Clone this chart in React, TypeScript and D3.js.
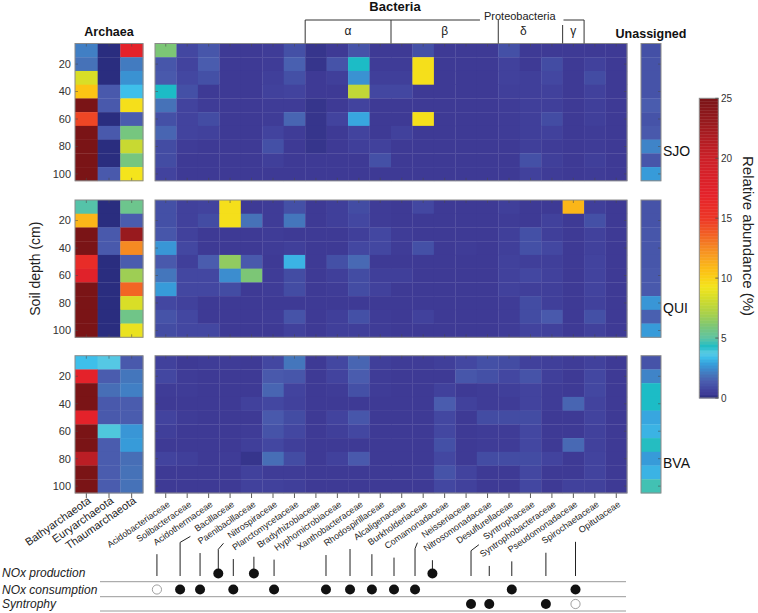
import React, { useMemo } from 'react';
import * as d3 from 'd3';

// ---------------- DATA ----------------
const depths = [10, 20, 30, 40, 50, 60, 70, 80, 90, 100];
const depthTicks = [20, 40, 60, 80, 100];
const sites = ['SJO', 'QUI', 'BVA'];
const archaeaNames = ['Bathyarchaeota', 'Euryarchaeota', 'Thaumarchaeota'];
const bacteriaNames = [
  'Acidobacteriaceae', 'Solibacteraceae', 'Acidothermaceae', 'Bacillaceae', 'Paenibacillaceae',
  'Nitrospiraceae', 'Planctomycetaceae', 'Bradyrhizobiaceae', 'Hyphomicrobiaceae', 'Xanthobacteraceae',
  'Rhodospirillaceae', 'Alcaligenaceae', 'Burkholderiaceae', 'Comamonadaceae', 'Neisseriaceae',
  'Nitrosomonadaceae', 'Desulfurellaceae', 'Syntrophaceae', 'Syntrophobacteraceae', 'Pseudomonadaceae',
  'Spirochaetaceae', 'Opitutaceae',
];

// rows = depths (10..100 cm), columns = archaeaNames
const sjoArchaea = [
  [2.2, 0.05, 17], [1.9, 0.05, 2.1], [8.5, 0.05, 2.6], [10.5, 1.3, 3.4], [25, 1.3, 9.5],
  [14.5, 0.05, 1.4], [25, 1.3, 5.8], [25, 0.05, 8.0], [25, 0.05, 5.8], [25, 1.3, 9.3],
];
const quiArchaea = [
  [4.9, 0.05, 5.5], [11, 0.05, 1.4], [25, 1.3, 23], [25, 1.3, 12.5], [16, 0.05, 1.4],
  [17.5, 0.05, 6.8], [25, 0.05, 13.5], [25, 0.05, 8.5], [25, 0.05, 5.6], [25, 0.05, 9.0],
];
const bvaArchaea = [
  [3.4, 3.7, 1.3], [17, 1.4, 2.0], [25, 1.8, 2.2], [25, 1.3, 1.4], [17, 1.3, 1.4],
  [25, 3.9, 2.7], [25, 1.4, 2.8], [21, 1.4, 1.8], [25, 1.4, 1.9], [25, 1.4, 1.9],
];

// rows = depths, columns = bacteriaNames
const sjoBacteria = [
  [6.0, 0.8, 1.2, 0.3, 0.3, 0.4, 1.0, 0.2, 0.3, 1.1, 0.3, 0.3, 1.0, 0.3, 0.3, 0.3, 1.0, 0.3, 0.3, 0.3, 0.3, 0.3],
  [1.2, 0.7, 1.4, 0.3, 0.3, 0.4, 1.5, 0.2, 1.1, 4.3, 0.4, 0.4, 9.5, 0.3, 0.3, 0.3, 0.6, 0.3, 0.9, 0.3, 0.6, 0.3],
  [1.3, 0.8, 1.0, 0.3, 0.3, 0.5, 1.0, 0.3, 0.5, 2.6, 0.5, 0.5, 9.5, 0.3, 0.3, 0.3, 0.6, 0.5, 0.8, 0.3, 0.9, 0.3],
  [4.3, 1.0, 0.3, 0.3, 0.3, 0.6, 0.7, 0.3, 0.3, 7.8, 0.8, 0.8, 0.3, 0.3, 0.3, 0.3, 0.5, 0.5, 0.6, 0.3, 0.6, 0.3],
  [1.9, 0.7, 0.4, 0.3, 0.3, 0.4, 0.4, 0.2, 0.3, 0.7, 0.3, 0.3, 0.3, 0.3, 0.3, 0.3, 0.4, 0.5, 0.5, 0.3, 0.5, 0.3],
  [1.0, 0.7, 0.9, 0.3, 0.3, 0.4, 1.6, 0.2, 0.7, 3.0, 0.3, 0.3, 9.5, 0.3, 0.3, 0.3, 0.4, 0.5, 0.9, 0.3, 0.5, 0.3],
  [1.6, 0.7, 0.6, 0.3, 0.3, 0.7, 0.4, 0.2, 0.3, 0.7, 0.3, 0.6, 0.3, 0.3, 0.3, 0.3, 0.4, 0.5, 0.6, 0.3, 0.4, 0.3],
  [0.9, 0.4, 0.3, 0.3, 0.3, 1.0, 0.3, 0.2, 0.3, 0.5, 0.6, 0.3, 0.3, 0.3, 0.3, 0.3, 0.3, 0.5, 0.4, 0.3, 0.4, 0.3],
  [0.9, 0.3, 0.3, 0.3, 0.3, 0.5, 0.3, 0.3, 0.3, 0.3, 1.0, 0.3, 0.3, 0.3, 0.3, 0.3, 0.3, 1.0, 0.5, 0.3, 0.5, 0.3],
  [0.7, 0.3, 0.3, 0.3, 0.3, 0.3, 0.3, 0.3, 0.3, 0.3, 0.3, 0.3, 0.3, 0.3, 0.3, 0.3, 0.3, 0.6, 0.4, 0.3, 0.4, 0.3],
];
const quiBacteria = [
  [1.0, 0.6, 0.7, 9.5, 0.3, 0.4, 1.0, 0.3, 0.5, 0.9, 0.4, 0.3, 0.8, 0.3, 0.3, 0.3, 0.5, 0.3, 0.3, 11, 0.5, 0.3],
  [1.0, 0.6, 0.9, 9.5, 1.9, 0.4, 2.0, 0.3, 0.5, 0.8, 0.4, 0.3, 0.3, 0.3, 0.3, 0.3, 0.4, 0.3, 0.6, 0.3, 1.0, 0.3],
  [1.2, 0.6, 0.3, 0.3, 0.3, 0.4, 0.3, 0.3, 0.3, 0.5, 0.8, 0.4, 0.3, 0.3, 0.3, 0.3, 0.5, 1.0, 0.5, 0.3, 0.6, 0.3],
  [2.7, 0.8, 0.3, 0.3, 0.3, 0.4, 0.5, 0.3, 0.3, 0.8, 0.8, 0.4, 1.0, 0.3, 0.4, 0.3, 0.5, 1.0, 0.8, 0.3, 0.6, 0.3],
  [1.3, 0.5, 1.4, 6.5, 1.3, 0.3, 3.2, 0.3, 1.0, 1.7, 0.3, 0.3, 0.3, 0.3, 0.3, 0.3, 0.6, 0.5, 0.5, 0.3, 0.7, 0.3],
  [2.0, 0.8, 0.8, 2.5, 6.0, 0.4, 0.9, 0.3, 0.5, 0.9, 0.5, 0.5, 0.3, 0.3, 0.3, 0.3, 0.6, 0.8, 0.6, 0.3, 0.7, 0.3],
  [2.8, 0.8, 0.8, 0.9, 0.3, 0.4, 0.9, 0.3, 0.4, 0.9, 0.6, 0.3, 0.3, 0.3, 0.3, 0.3, 0.6, 0.5, 0.5, 0.3, 0.7, 0.3],
  [0.8, 0.6, 0.3, 0.3, 0.3, 0.3, 0.3, 0.3, 0.3, 0.3, 0.3, 0.3, 0.3, 0.3, 0.3, 0.3, 0.4, 0.9, 0.5, 0.3, 0.6, 0.3],
  [1.1, 0.8, 0.3, 0.3, 0.3, 0.4, 1.1, 0.3, 0.5, 1.0, 0.4, 0.3, 0.6, 0.3, 0.3, 0.3, 0.4, 0.9, 1.3, 0.3, 1.0, 0.3],
  [0.9, 0.8, 0.8, 0.3, 0.3, 0.3, 0.6, 0.3, 0.5, 0.5, 0.4, 0.3, 0.3, 0.3, 0.3, 0.3, 0.4, 0.7, 0.6, 0.3, 0.6, 0.3],
];
const bvaBacteria = [
  [0.6, 0.3, 0.4, 0.4, 0.3, 0.8, 2.0, 0.3, 0.8, 1.6, 0.5, 0.4, 0.4, 0.5, 0.8, 1.0, 0.9, 0.6, 0.5, 0.4, 0.6, 0.3],
  [0.8, 0.4, 0.3, 0.3, 0.3, 1.3, 1.2, 0.3, 0.7, 1.4, 0.4, 0.3, 0.3, 0.3, 1.2, 1.0, 0.8, 1.1, 0.5, 0.3, 0.8, 0.3],
  [0.4, 0.4, 0.3, 0.3, 0.3, 1.6, 0.7, 0.3, 0.4, 1.0, 0.4, 0.3, 0.3, 0.6, 0.3, 0.4, 0.5, 0.7, 0.4, 0.3, 0.8, 0.3],
  [0.3, 0.3, 0.3, 0.3, 0.6, 0.8, 0.6, 0.3, 0.3, 0.3, 0.3, 0.3, 0.3, 1.4, 0.6, 0.4, 0.4, 0.7, 0.4, 1.6, 0.7, 0.3],
  [0.7, 0.4, 0.3, 0.3, 0.3, 1.3, 0.9, 0.3, 0.7, 1.2, 0.3, 0.3, 0.3, 0.8, 0.3, 0.9, 0.9, 0.9, 0.3, 0.3, 0.7, 0.3],
  [0.5, 0.3, 0.3, 0.3, 0.4, 1.1, 0.8, 0.3, 0.5, 0.8, 0.3, 0.3, 0.3, 0.8, 0.3, 0.4, 0.4, 0.8, 0.3, 0.3, 0.6, 0.3],
  [0.3, 0.3, 0.3, 0.3, 0.5, 0.8, 0.5, 0.3, 0.3, 0.3, 0.3, 0.3, 0.3, 1.0, 0.3, 0.4, 0.4, 0.8, 0.3, 1.7, 0.6, 0.3],
  [0.7, 0.5, 0.3, 0.4, 0.2, 1.8, 0.9, 0.3, 0.6, 1.3, 0.3, 0.3, 0.3, 0.8, 0.3, 0.9, 0.9, 0.9, 0.7, 0.3, 0.7, 0.3],
  [0.3, 0.3, 0.3, 0.3, 0.6, 0.4, 0.4, 0.3, 0.3, 0.3, 0.3, 0.3, 0.4, 1.1, 0.7, 0.3, 0.3, 0.8, 0.3, 0.3, 0.7, 0.3],
  [0.3, 0.3, 0.3, 0.3, 0.6, 0.6, 0.5, 0.3, 0.3, 0.3, 0.3, 0.3, 0.3, 0.8, 0.6, 0.3, 0.3, 0.8, 0.3, 0.6, 0.6, 0.3],
];

// rows = depths
const sjoUnassigned = [1.0, 1.1, 1.1, 1.1, 1.4, 1.1, 1.3, 2.3, 1.2, 2.8];
const quiUnassigned = [1.1, 1.1, 1.2, 1.2, 1.2, 1.3, 1.3, 2.7, 1.5, 2.8];
const bvaUnassigned = [1.1, 2.3, 4.3, 4.3, 3.0, 3.2, 4.4, 2.8, 3.2, 4.7];

const colorbarTicks = [0, 5, 10, 15, 20, 25];
const colorStops: [number, string][] = [
  [0, '#262a7a'], [0.3, '#3e3a95'], [0.7, '#42439e'], [1.0, '#4450a6'], [1.4, '#4a5cae'],
  [1.9, '#4672b8'], [2.4, '#3d88cc'], [2.9, '#36a0dc'], [3.4, '#3ebfea'], [3.8, '#5ccbe2'],
  [4.3, '#1cbcc6'], [5.0, '#5ec4a4'], [6.0, '#7cc676'], [7.0, '#a6d04c'], [8.3, '#d2dc2a'],
  [9.3, '#f4e41c'], [10.5, '#fcc414'], [11.5, '#f9a81e'], [12.5, '#f58a22'], [13.5, '#f26624'],
  [15, '#ec3626'], [17, '#e4222a'], [20, '#cc2028'], [23, '#981a1e'], [25, '#7a1416'],
];

const proteoGroups = [
  { label: 'α', first: 'Bradyrhizobiaceae', last: 'Rhodospirillaceae' },
  { label: 'β', first: 'Alcaligenaceae', last: 'Nitrosomonadaceae' },
  { label: 'δ', first: 'Desulfurellaceae', last: 'Syntrophobacteraceae' },
  { label: 'γ', first: 'Pseudomonadaceae', last: 'Pseudomonadaceae' },
];

// functional roles
const roleFamilies = [
  'Acidothermaceae', 'Bacillaceae', 'Paenibacillaceae', 'Nitrospiraceae', 'Planctomycetaceae',
  'Bradyrhizobiaceae', 'Hyphomicrobiaceae', 'Rhodospirillaceae', 'Alcaligenaceae', 'Burkholderiaceae',
  'Comamonadaceae', 'Neisseriaceae', 'Nitrosomonadaceae', 'Syntrophaceae', 'Syntrophobacteraceae',
  'Pseudomonadaceae', 'Spirochaetaceae', 'Opitutaceae',
];
// connector position in bacterial-column units
const connectorAt = [0.09, 1.17, 2.1, 2.95, 3.65, 4.61, 5.55, 7.97, 9.09, 10.11, 11.14, 12.12, 12.93, 14.73, 15.58, 16.63, 18.22, 19.6];
const bentConnector = ['Bacillaceae', 'Nitrospiraceae', 'Neisseriaceae', 'Syntrophaceae'];
const noxProduction = ['Nitrospiraceae', 'Bradyrhizobiaceae', 'Nitrosomonadaceae'];
const noxConsumption = [
  'Acidothermaceae', 'Bacillaceae', 'Paenibacillaceae', 'Planctomycetaceae', 'Hyphomicrobiaceae',
  'Rhodospirillaceae', 'Alcaligenaceae', 'Burkholderiaceae', 'Comamonadaceae', 'Neisseriaceae',
  'Pseudomonadaceae', 'Opitutaceae',
];
const syntrophy = ['Syntrophaceae', 'Syntrophobacteraceae', 'Spirochaetaceae', 'Opitutaceae'];
const partialRole = ['consumption:Acidothermaceae', 'syntrophy:Opitutaceae'];
const roleRows = ['NOx production', 'NOx consumption', 'Syntrophy'];

// ---------------- LAYOUT ----------------
const W = 758;
const H = 613;
const FONT = "'Liberation Sans', Arial, Helvetica, sans-serif";
const panelTops = [43.5, 200, 355.7];
const panelH = 137.3;
const ARCH = [75, 143];
const BAC = [155, 627];
const UN = [641, 661];
const ANG = 35;

function measureText(text: string, font: string) {
  if (typeof document === 'undefined') return text.length * 5;
  const c = document.createElement('canvas');
  const ctx = c.getContext('2d');
  if (!ctx) return text.length * 5;
  ctx.font = font;
  return ctx.measureText(text).width;
}

export default function App() {
  const archX = d3.scaleBand().domain(archaeaNames).range(ARCH);
  const bacX = d3.scaleBand().domain(bacteriaNames).range(BAC);
  const bacLin = d3.scaleLinear().domain([0, bacteriaNames.length]).range(BAC);
  const unX = d3.scaleBand().domain(['Unassigned']).range(UN);
  const color = d3
    .scaleLinear<string>()
    .domain(colorStops.map((s) => s[0]))
    .range(colorStops.map((s) => s[1]))
    .interpolate(d3.interpolateRgb)
    .clamp(true);
  const cbY = d3.scaleLinear().domain([0, 25]).range([398, 98.3]);

  const archData = [sjoArchaea, quiArchaea, bvaArchaea];
  const bacData = [sjoBacteria, quiBacteria, bvaBacteria];
  const unData = [sjoUnassigned, quiUnassigned, bvaUnassigned];

  const cos = Math.cos((ANG * Math.PI) / 180);
  const sin = Math.sin((ANG * Math.PI) / 180);
  const labelY = panelTops[2] + panelH + 10;

  const bacLabelW = useMemo(
    () => bacteriaNames.map((n) => measureText(n, `9px ${FONT}`)),
    []
  );

  const tickStroke = '#4a4a4a';
  const frame = '#8a8a8a';

  const panelFrame = (x0: number, x1: number, top: number, key: string, cols: number[], last: boolean, leftTicks: boolean, rightTicks: boolean) => {
    const y = d3.scaleLinear().domain([5, 105]).range([top, top + panelH]);
    return (
      <g key={key}>
        {depthTicks.map((d) => (
          <g key={d}>
            {leftTicks && <line x1={x0} x2={x0 + 3} y1={y(d)} y2={y(d)} stroke={tickStroke} strokeWidth={0.8} opacity={0.7} />}
            {rightTicks && <line x1={x1 - 3} x2={x1} y1={y(d)} y2={y(d)} stroke={tickStroke} strokeWidth={0.8} opacity={0.7} />}
          </g>
        ))}
        {cols.map((cx, i) => (
          <g key={'c' + i}>
            <line x1={cx} x2={cx} y1={top} y2={top + 3} stroke={tickStroke} strokeWidth={0.8} opacity={0.7} />
            {last ? (
              <line x1={cx} x2={cx} y1={top + panelH} y2={top + panelH + 5} stroke={tickStroke} strokeWidth={0.9} />
            ) : (
              <line x1={cx} x2={cx} y1={top + panelH - 3} y2={top + panelH} stroke={tickStroke} strokeWidth={0.8} opacity={0.7} />
            )}
          </g>
        ))}
        <rect x={x0} y={top} width={x1 - x0} height={panelH} fill="none" stroke={frame} strokeWidth={1} />
      </g>
    );
  };

  return (
    <svg
      width={W}
      height={H}
      viewBox={`0 0 ${W} ${H}`}
      style={{ position: 'absolute', left: 0, top: 0, background: '#fff' }}
      fontFamily={FONT}
    >
      {/* heatmap cells */}
      {sites.map((site, si) => {
        const top = panelTops[si];
        const y = d3.scaleLinear().domain([5, 105]).range([top, top + panelH]);
        return (
          <g key={site}>
            {depths.map((d, ri) => (
              <g key={d}>
                {archaeaNames.map((n, ci) => (
                  <rect key={n} x={archX(n)} y={y(d - 5)} width={archX.bandwidth() + 0.3} height={y(d + 5) - y(d - 5) + 0.3} fill={color(archData[si][ri][ci])} />
                ))}
                {bacteriaNames.map((n, ci) => (
                  <rect key={n} x={bacX(n)} y={y(d - 5)} width={bacX.bandwidth() + 0.3} height={y(d + 5) - y(d - 5) + 0.3} fill={color(bacData[si][ri][ci])} />
                ))}
                <rect x={unX('Unassigned')} y={y(d - 5)} width={unX.bandwidth()} height={y(d + 5) - y(d - 5) + 0.3} fill={color(unData[si][ri])} />
              </g>
            ))}
            {panelFrame(ARCH[0], ARCH[1], top, 'a', archaeaNames.map((n) => (archX(n) as number) + archX.bandwidth() / 2), si === 2, true, false)}
            {panelFrame(BAC[0], BAC[1], top, 'b', bacteriaNames.map((n) => (bacX(n) as number) + bacX.bandwidth() / 2), si === 2, true, true)}
            {panelFrame(UN[0], UN[1], top, 'u', [], si === 2, false, true)}
            {/* depth tick labels */}
            {depthTicks.map((d) => (
              <text key={d} x={71} y={y(d)} dy="0.35em" textAnchor="end" fontSize={11} fill="#333">
                {d}
              </text>
            ))}
            <text x={663} y={top + 112.5} fontSize={14} fill="#111">
              {site}
            </text>
          </g>
        );
      })}

      {/* y axis title */}
      <text transform={`translate(35,${panelTops[1] + panelH / 2}) rotate(-90)`} textAnchor="middle" dy="0.35em" fontSize={14} fill="#222">
        Soil depth (cm)
      </text>

      {/* headers */}
      <text x={(ARCH[0] + ARCH[1]) / 2} y={36} textAnchor="middle" fontSize={12.5} fontWeight="bold" fill="#111">
        Archaea
      </text>
      <text x={395} y={10.5} textAnchor="middle" fontSize={13} fontWeight="bold" fill="#111">
        Bacteria
      </text>
      <text x={651} y={37.5} textAnchor="middle" fontSize={12.5} fontWeight="bold" fill="#111">
        Unassigned
      </text>

      {/* proteobacteria bracket */}
      {(() => {
        const x0 = bacX(proteoGroups[0].first) as number;
        const last = proteoGroups[proteoGroups.length - 1].last;
        const x1 = (bacX(last) as number) + bacX.bandwidth();
        const tx = bacX('Syntrophaceae') as number;
        const tw = measureText('Proteobacteria', `11px ${FONT}`);
        const by = 20;
        const top = panelTops[0];
        return (
          <g stroke="#333" strokeWidth={1}>
            <line x1={x0} x2={tx - tw / 2 - 4} y1={by} y2={by} />
            <line x1={tx + tw / 2 + 8} x2={x1} y1={by} y2={by} />
            <line x1={x0} x2={x0} y1={by} y2={top} />
            {proteoGroups.map((g, i) => {
              const gx1 = (bacX(g.last) as number) + bacX.bandwidth();
              const gx0 = bacX(g.first) as number;
              return (
                <g key={g.label}>
                  <line x1={gx1} x2={gx1} y1={i === 2 ? by + 5 : by} y2={top} />
                  <text x={(gx0 + gx1) / 2 - (i === 2 ? 7 : 0)} y={35} textAnchor="middle" fontSize={12} fill="#222" stroke="none">
                    {g.label}
                  </text>
                </g>
              );
            })}
            <text x={tx} y={19.7} textAnchor="middle" fontSize={11} fill="#222" stroke="none">
              Proteobacteria
            </text>
          </g>
        );
      })()}

      {/* column labels */}
      {archaeaNames.map((n) => {
        const cx = (archX(n) as number) + archX.bandwidth() / 2;
        return (
          <text key={n} transform={`translate(${cx + 3},${labelY - 4}) rotate(${-ANG})`} textAnchor="end" dy="0.35em" fontSize={11} fill="#222">
            {n}
          </text>
        );
      })}
      {bacteriaNames.map((n) => {
        const cx = (bacX(n) as number) + bacX.bandwidth() / 2;
        return (
          <text key={n} transform={`translate(${cx + 3},${labelY}) rotate(${-ANG})`} textAnchor="end" dy="0.35em" fontSize={9} fill="#222">
            {n}
          </text>
        );
      })}

      {/* colorbar */}
      {d3.range(0, 25, 0.25).map((v) => (
        <rect key={v} x={699.3} y={cbY(v + 0.25)} width={19} height={cbY(v) - cbY(v + 0.25) + 0.4} fill={color(v + 0.125)} />
      ))}
      <rect x={699.3} y={cbY(25)} width={19} height={cbY(0) - cbY(25)} fill="none" stroke={frame} strokeWidth={1} />
      {colorbarTicks.map((t) => (
        <g key={t}>
          <line x1={715.3} x2={718.3} y1={cbY(t)} y2={cbY(t)} stroke={tickStroke} strokeWidth={0.8} />
          <text x={721} y={cbY(t)} dy="0.35em" fontSize={10} fill="#333">
            {t}
          </text>
        </g>
      ))}
      <text transform="translate(748,236) rotate(90)" textAnchor="middle" dy="0.35em" fontSize={15} fill="#222">
        Relative abundance (%)
      </text>

      {/* functional table */}
      {[581.7, 596.7, 611].map((ly) => (
        <line key={ly} x1={100} x2={626} y1={ly} y2={ly} stroke="#999" strokeWidth={1} />
      ))}
      {roleRows.map((r, i) => (
        <text key={r} x={2} y={[577, 593.5, 607.5][i]} fontSize={12} fontStyle="italic" fill="#222">
          {r}
        </text>
      ))}
      {roleFamilies.map((n, i) => {
        const ci = bacteriaNames.indexOf(n);
        const cx = (bacX(n) as number) + bacX.bandwidth() / 2;
        const w = bacLabelW[ci];
        const sx = cx + 3 - w * cos;
        const sy = labelY + w * sin;
        const dx = bacLin(connectorAt[i]);
        const isProd = noxProduction.includes(n);
        const yEnd = isProd ? 573.5 : 576;
        let path: string;
        if (bentConnector.includes(n)) {
          const tx = sx - 5;
          const ty = sy + 7;
          path = `M${tx},${ty}L${dx},${ty + 6}L${dx},${yEnd}`;
        } else {
          path = `M${dx},${sy + 11}L${dx},${yEnd}`;
        }
        const cons = noxConsumption.includes(n);
        const syn = syntrophy.includes(n);
        return (
          <g key={n}>
            <path d={path} fill="none" stroke="#222" strokeWidth={1} />
            {isProd && <circle cx={dx} cy={573.5} r={5} fill="#111" />}
            {cons && (
              <circle
                cx={dx}
                cy={589.5}
                r={partialRole.includes('consumption:' + n) ? 4.6 : 5}
                fill={partialRole.includes('consumption:' + n) ? '#fff' : '#111'}
                stroke={partialRole.includes('consumption:' + n) ? '#888' : 'none'}
                strokeWidth={0.8}
              />
            )}
            {syn && (
              <circle
                cx={dx}
                cy={604}
                r={partialRole.includes('syntrophy:' + n) ? 4.6 : 5}
                fill={partialRole.includes('syntrophy:' + n) ? '#fff' : '#111'}
                stroke={partialRole.includes('syntrophy:' + n) ? '#888' : 'none'}
                strokeWidth={0.8}
              />
            )}
          </g>
        );
      })}
    </svg>
  );
}
